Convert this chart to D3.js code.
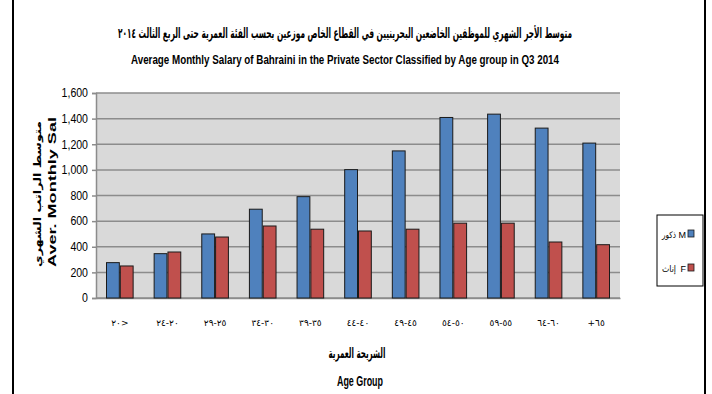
<!DOCTYPE html>
<html>
<head>
<meta charset="utf-8">
<script src="https://cdn.jsdelivr.net/npm/d3@7"></script>
<style>
  html, body { margin: 0; padding: 0; background: #fff; }
  svg { display: block; }
</style>
</head>
<body>
<svg id="chart" width="712" height="394"></svg>
<script>
// Age groups (labels in display order) and average monthly salary by sex
const ageGroups = ["٢٠>", "٢٤-٢٠", "٢٩-٢٥", "٣٤-٣٠", "٣٩-٣٥", "٤٤-٤٠", "٤٩-٤٥", "٥٤-٥٠", "٥٩-٥٥", "٦٤-٦٠", "+٦٥"];
const maleSalary   = [276, 346, 500, 693, 791, 1002, 1148, 1409, 1435, 1326, 1209];
const femaleSalary = [250, 359, 476, 562, 537, 523, 537, 584, 584, 437, 416];
const seriesKeys   = ["M", "F"];
const seriesArabic = ["ذكور", "إناث"];
const yTicks = [0, 200, 400, 600, 800, 1000, 1200, 1400, 1600];

const colors = { M: "#4f81bd", F: "#c0504d" };
const narrow = "'Liberation Sans Narrow', 'Arial Narrow', 'Liberation Sans', sans-serif";
const arabic = "'DejaVu Sans', sans-serif";

const svg = d3.select("#chart");
const plot = { left: 96, right: 620, top: 93, bottom: 298 };

const rows = ageGroups.map((g, i) => ({ group: g, M: maleSalary[i], F: femaleSalary[i] }));

const x = d3.scaleBand().domain(ageGroups).range([plot.left, plot.right])
  .paddingInner(0.42).paddingOuter(0.21);
const xSub = d3.scaleBand().domain(seriesKeys).range([0, x.bandwidth()]);
const y = d3.scaleLinear().domain([0, 1600]).range([plot.bottom, plot.top]);

// Outer frame lines
svg.append("line").attr("x1", 13).attr("x2", 13).attr("y1", 0).attr("y2", 394)
  .attr("stroke", "#000").attr("stroke-width", 2);
svg.append("line").attr("x1", 705).attr("x2", 705).attr("y1", 0).attr("y2", 394)
  .attr("stroke", "#000").attr("stroke-width", 2);

// Plot background
svg.append("rect").attr("x", plot.left).attr("y", plot.top)
  .attr("width", plot.right - plot.left).attr("height", plot.bottom - plot.top)
  .attr("fill", "#d9d9d9");

// Gridlines
svg.append("g").selectAll("line").data(yTicks).join("line")
  .attr("x1", plot.left).attr("x2", plot.right)
  .attr("y1", d => y(d)).attr("y2", d => y(d))
  .attr("stroke", "#8c8c8c").attr("stroke-width", 1.5);

// Y axis
const yAxis = svg.append("g").attr("transform", `translate(${plot.left},0)`)
  .call(d3.axisLeft(y).tickValues(yTicks).tickFormat(d3.format(",")).tickSize(4).tickPadding(4));
yAxis.select(".domain").attr("stroke", "#8c8c8c").attr("stroke-width", 1.5);
yAxis.selectAll(".tick line").attr("stroke", "#8c8c8c").attr("stroke-width", 1.5);
yAxis.selectAll(".tick text").attr("font-family", narrow).attr("font-size", 12).attr("fill", "#000")
  .attr("transform", "scale(0.88,1)")
  .attr("x", -8 / 0.88);

// X axis
const xAxis = svg.append("g").attr("transform", `translate(0,${plot.bottom})`)
  .call(d3.axisBottom(x).tickSize(0).tickPadding(22));
xAxis.select(".domain").attr("stroke", "#8c8c8c").attr("stroke-width", 1.5);
xAxis.selectAll(".tick text")
  .attr("font-family", arabic).attr("font-size", 9).attr("fill", "#000")
  .attr("direction", "ltr").attr("unicode-bidi", "bidi-override");

// Bars
const groups = svg.append("g").selectAll("g").data(rows).join("g")
  .attr("transform", d => `translate(${x(d.group)},0)`);
groups.selectAll("rect").data(d => seriesKeys.map(k => ({ key: k, value: d[k] }))).join("rect")
  .attr("x", d => xSub(d.key) + 0.5)
  .attr("y", d => y(d.value))
  .attr("width", xSub.bandwidth() - 1)
  .attr("height", d => y(0) - y(d.value))
  .attr("fill", d => colors[d.key])
  .attr("stroke", "#1a1a1a").attr("stroke-width", 1);

// Titles
svg.append("text").attr("x", 345).attr("y", 38).attr("text-anchor", "middle")
  .attr("font-family", arabic).attr("font-weight", "bold").attr("font-size", 14)
  .attr("textLength", 454).attr("lengthAdjust", "spacingAndGlyphs")
  .text("متوسط الأجر الشهري للموظفين الخاضعين البحرينيين في القطاع الخاص موزعين بحسب الفئة العمرية حتى الربع الثالث ٢٠١٤");
svg.append("text").attr("x", 345).attr("y", 64).attr("text-anchor", "middle")
  .attr("font-family", narrow).attr("font-weight", "bold").attr("font-size", 13)
  .attr("textLength", 428).attr("lengthAdjust", "spacingAndGlyphs")
  .text("Average Monthly  Salary of Bahraini  in the Private Sector Classified  by Age group in Q3 2014");

// Y axis titles
svg.append("text").attr("transform", "translate(41,194) rotate(-90)").attr("text-anchor", "middle")
  .attr("font-family", arabic).attr("font-weight", "bold").attr("font-size", 10)
  .attr("textLength", 146).attr("lengthAdjust", "spacingAndGlyphs")
  .text("متوسط الراتب الشهري");
svg.append("text").attr("transform", "translate(56,192) rotate(-90)").attr("text-anchor", "middle")
  .attr("font-family", "'Liberation Sans', sans-serif").attr("font-weight", "bold").attr("font-size", 11)
  .attr("textLength", 150).attr("lengthAdjust", "spacingAndGlyphs")
  .text("Aver. Monthly Sal");

// X axis titles
svg.append("text").attr("x", 357).attr("y", 358).attr("text-anchor", "middle")
  .attr("font-family", arabic).attr("font-weight", "bold").attr("font-size", 14)
  .attr("textLength", 57).attr("lengthAdjust", "spacingAndGlyphs")
  .text("الشريحة العمرية");
svg.append("text").attr("x", 360).attr("y", 386).attr("text-anchor", "middle")
  .attr("font-family", narrow).attr("font-weight", "bold").attr("font-size", 15)
  .attr("textLength", 46).attr("lengthAdjust", "spacingAndGlyphs")
  .text("Age Group");

// Legend: swatch on the right, Latin code next to it, Arabic name to its left
const legend = svg.append("g");
legend.append("rect").attr("x", 657).attr("y", 215).attr("width", 46).attr("height", 71)
  .attr("fill", "#fff").attr("stroke", "#000").attr("stroke-width", 1);
const items = legend.selectAll("g").data(seriesKeys).join("g")
  .attr("transform", (d, i) => `translate(0,${234 + i * 34})`);
items.append("rect").attr("x", 688).attr("y", -4).attr("width", 6).attr("height", 7)
  .attr("fill", d => colors[d]).attr("stroke", "#1a1a1a").attr("stroke-width", 0.8);
items.append("text").attr("x", 686).attr("y", 4).attr("text-anchor", "end")
  .attr("font-family", narrow).attr("font-size", 9)
  .text(d => d);
items.append("text").attr("x", 676).attr("y", 4).attr("text-anchor", "end")
  .attr("font-family", arabic).attr("font-size", 9)
  .attr("textLength", 14).attr("lengthAdjust", "spacingAndGlyphs")
  .text((d, i) => seriesArabic[i]);
</script>
</body>
</html>
